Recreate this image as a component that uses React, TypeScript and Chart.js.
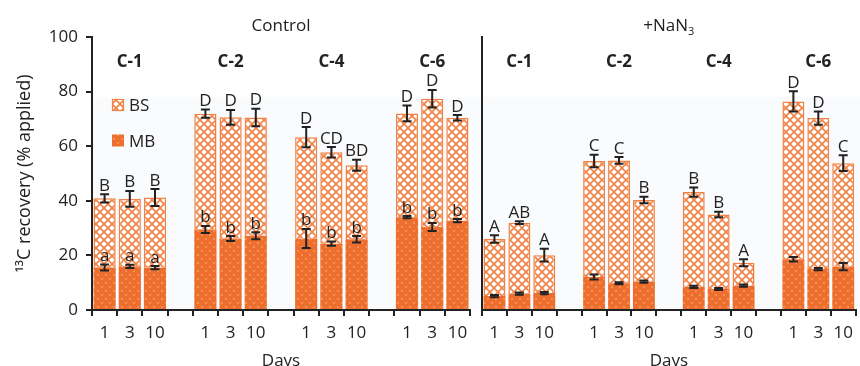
import React, { useEffect, useRef } from 'react';
import { Chart, registerables } from 'chart.js';

Chart.register(...registerables);

const FONT = '"Open Sans", "Noto Sans", sans-serif';
const INK = '#222222';
const ORANGE = '#EE6F2D';
const ORANGE_LINE = '#F08245';

const days = ['1', '3', '10'];
const groups = ['C-1', 'C-2', 'C-4', 'C-6'];

// Control panel (order: C-1 d1,d3,d10, C-2 ..., C-4 ..., C-6 ...)
const ctrlTotal = [40.9, 40.7, 41.2, 71.9, 70.6, 70.5, 63.3, 57.8, 53.0, 72.0, 77.4, 70.4];
const ctrlTotalErr = [1.5, 2.9, 3.1, 1.5, 2.7, 3.2, 3.7, 1.9, 2.0, 2.9, 3.2, 1.0];
const ctrlMB = [15.6, 16.0, 15.5, 29.5, 26.2, 27.2, 26.2, 24.3, 25.9, 34.0, 30.4, 32.7];
const ctrlMBErr = [1.1, 0.6, 0.6, 1.3, 0.9, 1.3, 3.5, 0.8, 1.2, 0.4, 1.5, 0.6];
const ctrlTotalLetters = ['B', 'B', 'B', 'D', 'D', 'D', 'D', 'CD', 'BD', 'D', 'D', 'D'];
const ctrlMBLetters = ['a', 'a', 'a', 'b', 'b', 'b', 'b', 'b', 'b', 'b', 'b', 'b'];

// +NaN3 panel
const nanTotal = [26.0, 32.0, 20.1, 54.6, 54.8, 40.3, 43.2, 35.0, 17.3, 76.4, 70.3, 53.8];
const nanTotalErr = [1.4, 0.5, 2.3, 2.3, 1.2, 1.2, 1.7, 1.0, 1.3, 3.7, 2.4, 2.9];
const nanMB = [5.1, 6.0, 6.2, 12.1, 9.8, 10.4, 8.5, 7.7, 8.9, 18.6, 15.0, 15.9];
const nanMBErr = [0.4, 0.4, 0.4, 0.9, 0.4, 0.4, 0.4, 0.4, 0.4, 0.8, 0.4, 1.3];
const nanTotalLetters = ['A', 'AB', 'A', 'C', 'C', 'B', 'B', 'B', 'A', 'D', 'D', 'C'];

const yTicks = [0, 20, 40, 60, 80, 100];

function buildLabels(): string[] {
  const out: string[] = [];
  groups.forEach((_, g) => {
    out.push(...days);
    if (g < groups.length - 1) out.push('');
  });
  return out;
}

function expand(arr: number[]): (number | null)[] {
  const out: (number | null)[] = [];
  groups.forEach((_, g) => {
    for (let d = 0; d < days.length; d++) out.push(arr[g * days.length + d]);
    if (g < groups.length - 1) out.push(null);
  });
  return out;
}

function slotOf(k: number) {
  const g = Math.floor(k / days.length);
  return g * (days.length + 1) + (k % days.length);
}

function makeBSPattern(ctx: CanvasRenderingContext2D) {
  const c = document.createElement('canvas');
  c.width = 8;
  c.height = 8;
  const g = c.getContext('2d')!;
  g.fillStyle = '#ffffff';
  g.fillRect(0, 0, 8, 8);
  g.strokeStyle = ORANGE_LINE;
  g.lineWidth = 1.6;
  g.beginPath();
  g.moveTo(-2, -2);
  g.lineTo(10, 10);
  g.moveTo(-2, 10);
  g.lineTo(10, -2);
  g.stroke();
  return ctx.createPattern(c, 'repeat')!;
}

function makeMBPattern(ctx: CanvasRenderingContext2D) {
  const c = document.createElement('canvas');
  c.width = 8;
  c.height = 8;
  const g = c.getContext('2d')!;
  g.fillStyle = ORANGE;
  g.fillRect(0, 0, 8, 8);
  g.fillStyle = '#F38F58';
  g.fillRect(1, 2, 2, 2);
  g.fillRect(5, 6, 2, 2);
  return ctx.createPattern(c, 'repeat')!;
}

interface PanelOpts {
  total: number[];
  totalErr: number[];
  mb: number[];
  mbErr: number[];
  totalLetters: string[];
  mbLetters: string[] | null;
  title: string;
  titleSub: string;
  isLeft: boolean;
}

function buildChart(canvas: HTMLCanvasElement, o: PanelOpts) {
  const ctx = canvas.getContext('2d')!;
  const bsPattern = makeBSPattern(ctx);
  const mbPattern = makeMBPattern(ctx);
  const bs = o.total.map((t, i) => +(t - o.mb[i]).toFixed(2));

  const overlay = {
    id: 'overlay',
    afterDatasetsDraw(chart: any) {
      const c: CanvasRenderingContext2D = chart.ctx;
      const ys = chart.scales.y;
      const area = chart.chartArea;
      const meta = chart.getDatasetMeta(1);
      c.save();
      c.strokeStyle = INK;
      c.fillStyle = INK;
      c.lineWidth = 2;
      const err = (x: number, v: number, e: number) => {
        const top = ys.getPixelForValue(v + e);
        const bot = ys.getPixelForValue(v - e);
        const hw = 4.5;
        c.beginPath();
        c.moveTo(x, top);
        c.lineTo(x, bot);
        c.moveTo(x - hw, top);
        c.lineTo(x + hw, top);
        c.moveTo(x - hw, bot);
        c.lineTo(x + hw, bot);
        c.stroke();
      };
      c.font = `17px ${FONT}`;
      c.textAlign = 'center';
      c.textBaseline = 'alphabetic';
      o.total.forEach((t, k) => {
        const el = meta.data[slotOf(k)];
        if (!el) return;
        const x = el.x;
        err(x, t, o.totalErr[k]);
        err(x, o.mb[k], o.mbErr[k]);
        c.fillText(o.totalLetters[k], x, ys.getPixelForValue(t + o.totalErr[k]) - 3.5);
        if (o.mbLetters) {
          c.fillText(o.mbLetters[k], x, ys.getPixelForValue(o.mb[k] + o.mbErr[k]) - 3.5);
        }
      });

      // group labels
      c.font = `bold 17px ${FONT}`;
      groups.forEach((gname, g) => {
        const el = meta.data[slotOf(g * days.length + 1)];
        if (el) c.fillText(gname, el.x, 67);
      });

      // panel title
      const cx = (area.left + area.right) / 2;
      c.font = `17px ${FONT}`;
      const w1 = c.measureText(o.title).width;
      let w2 = 0;
      if (o.titleSub) {
        c.font = `11px ${FONT}`;
        w2 = c.measureText(o.titleSub).width;
      }
      const x0 = cx - (w1 + w2) / 2;
      c.textAlign = 'left';
      c.font = `17px ${FONT}`;
      c.fillText(o.title, x0, 31);
      if (o.titleSub) {
        c.font = `11px ${FONT}`;
        c.fillText(o.titleSub, x0 + w1, 35);
      }

      // legend
      if (o.isLeft) {
        const bx = area.left + 20;
        c.fillStyle = bsPattern;
        c.fillRect(bx, 99, 12, 12);
        c.strokeStyle = ORANGE_LINE;
        c.lineWidth = 1.2;
        c.strokeRect(bx + 0.5, 99.5, 11, 11);
        c.fillStyle = mbPattern;
        c.fillRect(bx, 134.5, 12, 12);
        c.fillStyle = INK;
        c.font = `17px ${FONT}`;
        c.textAlign = 'left';
        c.fillText('BS', bx + 17, 111);
        c.fillText('MB', bx + 17, 146.5);
      }
      c.restore();
    },
  };

  const tickFont = { family: FONT, size: 17 };

  return new Chart(canvas, {
    type: 'bar',
    data: {
      labels: buildLabels(),
      datasets: [
        {
          label: 'MB',
          data: expand(o.mb),
          backgroundColor: mbPattern,
          borderWidth: 0,
          stack: 's',
          barPercentage: 0.88,
          categoryPercentage: 1,
        },
        {
          label: 'BS',
          data: expand(bs),
          backgroundColor: bsPattern,
          borderColor: ORANGE_LINE,
          borderWidth: 1.5,
          stack: 's',
          barPercentage: 0.88,
          categoryPercentage: 1,
        },
      ],
    },
    options: {
      responsive: false,
      animation: false,
      layout: { padding: { top: 37, right: o.isLeft ? 6 : 2, bottom: 0, left: 0 } },
      plugins: { legend: { display: false }, tooltip: { enabled: false } },
      scales: {
        x: {
          stacked: true,
          offset: true,
          grid: {
            display: true,
            drawOnChartArea: false,
            drawTicks: true,
            tickLength: 6,
            color: INK,
            lineWidth: 2,
            offset: true,
          },
          border: { display: true, color: INK, width: 2 },
          ticks: { font: tickFont, color: INK, padding: 7, maxRotation: 0, autoSkip: false },
          title: {
            display: true,
            text: 'Days',
            font: { family: FONT, size: 17, lineHeight: 0.55 },
            color: INK,
            padding: 0,
          },
          afterFit: (s: any) => {
            s.height = 56;
          },
        },
        y: {
          stacked: true,
          min: 0,
          max: 100,
          afterBuildTicks: (s: any) => {
            s.ticks = yTicks.map((v) => ({ value: v }));
          },
          ticks: { display: o.isLeft, font: tickFont, color: INK, padding: 8 },
          grid: {
            display: true,
            drawOnChartArea: false,
            drawTicks: o.isLeft,
            tickLength: 6,
            color: INK,
            lineWidth: 2,
          },
          border: { display: true, color: INK, width: 2 },
          title: {
            display: o.isLeft,
            text: '¹³C recovery (% applied)',
            font: { family: FONT, size: 18 },
            color: INK,
            padding: { top: 14, bottom: 0 },
          },
          afterFit: (s: any) => {
            s.width = o.isLeft ? 92 : 12;
          },
        },
      },
    },
    plugins: [overlay],
  } as any);
}

export default function App() {
  const leftRef = useRef<HTMLCanvasElement>(null);
  const rightRef = useRef<HTMLCanvasElement>(null);

  useEffect(() => {
    const charts = [
      buildChart(leftRef.current!, {
        total: ctrlTotal,
        totalErr: ctrlTotalErr,
        mb: ctrlMB,
        mbErr: ctrlMBErr,
        totalLetters: ctrlTotalLetters,
        mbLetters: ctrlMBLetters,
        title: 'Control',
        titleSub: '',
        isLeft: true,
      }),
      buildChart(rightRef.current!, {
        total: nanTotal,
        totalErr: nanTotalErr,
        mb: nanMB,
        mbErr: nanMBErr,
        totalLetters: nanTotalLetters,
        mbLetters: null,
        title: '+NaN',
        titleSub: '3',
        isLeft: false,
      }),
    ];
    return () => charts.forEach((c) => c.destroy());
  }, []);

  return (
    <div
      style={{
        position: 'fixed',
        left: 0,
        top: 0,
        width: 860,
        height: 366,
        background: '#ffffff',
        overflow: 'hidden',
      }}
    >
      <div
        style={{ position: 'absolute', left: 92, top: 97, width: 768, height: 213, background: '#FAFBFD' }}
      />
      <div style={{ position: 'absolute', left: 0, top: 0, width: 476, height: 366 }}>
        <canvas ref={leftRef} width={476} height={366} style={{ display: 'block' }} />
      </div>
      <div style={{ position: 'absolute', left: 470, top: 0, width: 390, height: 366 }}>
        <canvas ref={rightRef} width={390} height={366} style={{ display: 'block' }} />
      </div>
    </div>
  );
}
